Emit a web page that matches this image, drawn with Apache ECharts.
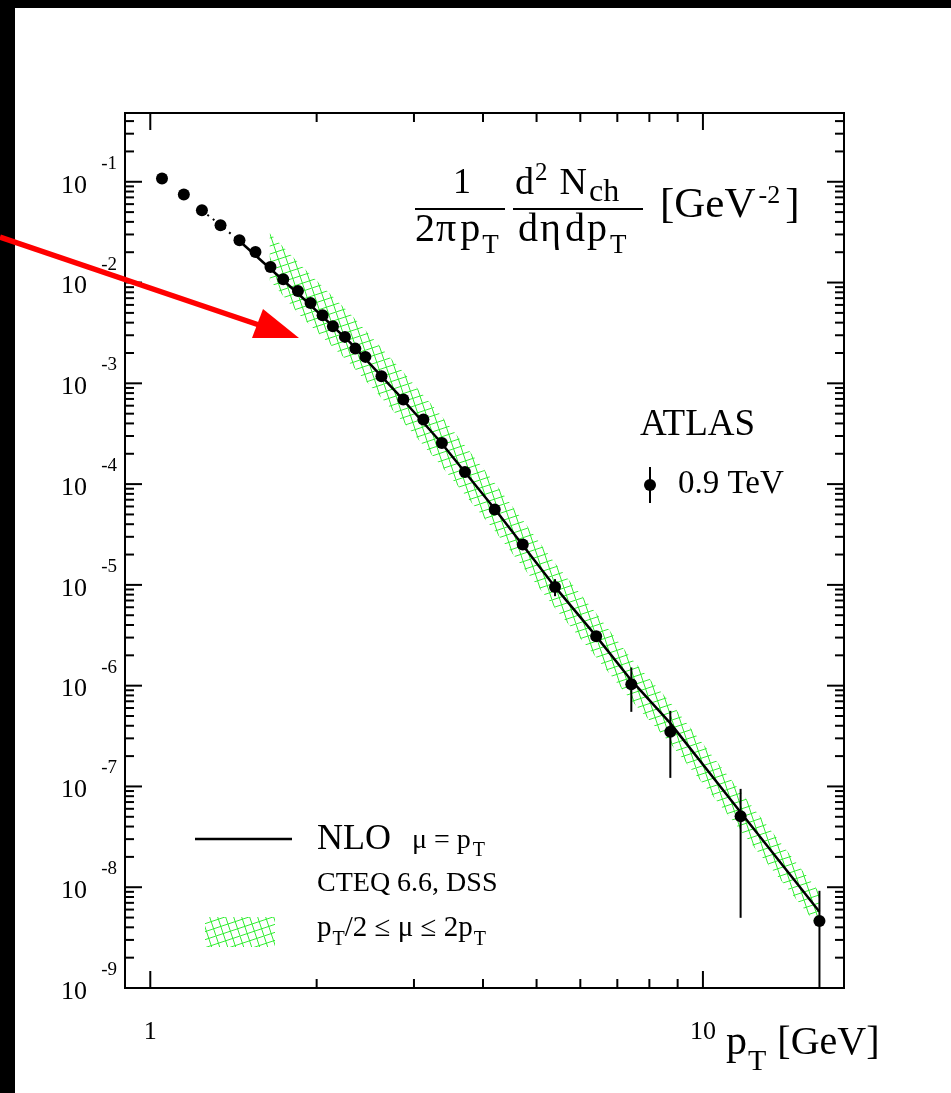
<!DOCTYPE html>
<html>
<head>
<meta charset="utf-8">
<script src="https://cdn.jsdelivr.net/npm/echarts@6/dist/echarts.min.js"></script>
<style>
  html, body { margin: 0; padding: 0; background: #fff; }
  #chart { width: 951px; height: 1093px; }
</style>
</head>
<body>
<div id="chart"></div>
<script>
// ATLAS 0.9 TeV charged particle pT spectrum, compared to NLO
var ptData = [1.05, 1.15, 1.24, 1.34, 1.45, 1.55, 1.65, 1.74, 1.85, 1.95, 2.05, 2.14, 2.25, 2.35,
  2.45, 2.62, 2.87, 3.12, 3.37, 3.71, 4.2, 4.72, 5.4, 6.41, 7.42, 8.73, 11.7, 16.25];
var yieldData = [0.1076, 0.0746, 0.0521, 0.037, 0.0263, 0.0201, 0.01429, 0.01079, 0.00826, 0.00627,
  0.00474, 0.00368, 0.00289, 0.00221, 0.00183, 0.001176, 0.000691, 0.000437, 0.000256, 0.000132,
  5.6e-5, 2.52e-5, 9.55e-6, 3.1e-6, 1.035e-6, 3.48e-7, 5.07e-8, 4.61e-9];
// error bars (null = hidden behind the marker)
var errLow = [null, null, null, null, null, null, null, null, null, null, null, null, null, null,
  null, null, null, null, null, null, null, null, 7.73e-6, null, 5.5e-7, 1.216e-7, 4.97e-9, 5e-10];
var errHigh = [null, null, null, null, null, null, null, null, null, null, null, null, null, null,
  null, null, null, null, null, null, null, null, 1.14e-5, null, 1.516e-6, 5.62e-7, 9.46e-8, 9.21e-9];

// NLO mu = pT
var nloPt = [1.445, 1.645, 1.865, 2.296, 2.829, 3.343, 4.205, 5.401, 6.408, 7.415, 8.727, 11.68, 16.25];
var nloVal = [0.0263, 0.01387, 0.00748, 0.00256, 0.000745, 0.000266, 5.64e-5, 9.55e-6, 3.1e-6,
  1.134e-6, 4.25e-7, 5.6e-8, 5.7e-9];
var nloDotPt = [1.24, 1.34, 1.445];
var nloDotVal = [0.0521, 0.037, 0.0263];

// scale band pT/2 < mu < 2pT
var bandPt = [1.645, 1.865, 2.296, 2.829, 3.343, 4.205, 5.401, 6.408, 7.415, 8.727, 11.68, 16.25];
var bandUp = [0.031, 0.01519, 0.00496, 0.001412, 0.000494, 0.0001021, 1.642e-5, 5.24e-6, 1.874e-6,
  6.86e-7, 8.98e-8, 8.94e-9];
var bandLow = [0.01054, 0.004739, 0.001582, 0.000451, 0.0001576, 3.41e-5, 5.87e-6, 1.917e-6, 7.18e-7,
  2.69e-7, 3.69e-8, 3.93e-9];

// axes
var xMin = 0.9, xMax = 18, yMin = 1e-9, yMax = 0.4813;
var xLabelVals = [1, 10];
var xLabelText = ['1', '10'];
var yLabelExps = [-9, -8, -7, -6, -5, -4, -3, -2, -1];
var xMinorTicks = [2, 3, 4, 5, 6, 7, 8, 9];
var yMinorMult = [2, 3, 4, 5, 6, 7, 8, 9];
var yDecades = [-9, -8, -7, -6, -5, -4, -3, -2, -1, 0];

var serif = "'Liberation Serif', 'DejaVu Serif', serif";

// ticks on all four sides: [x, y, kind]  kind 0/1 = x major/minor, 2/3 = y major/minor
var tickData = [];
xLabelVals.forEach(function (v) { tickData.push([v, yMin, 0]); });
xMinorTicks.forEach(function (v) { tickData.push([v, yMin, 1]); });
yLabelExps.forEach(function (e) { tickData.push([1, Math.pow(10, e), 2]); });
yDecades.forEach(function (e) {
  yMinorMult.forEach(function (m) {
    var v = m * Math.pow(10, e);
    if (v < yMax) tickData.push([1, v, 3]);
  });
});

var errData = [];
for (var i = 0; i < ptData.length; i++) {
  if (errLow[i] != null) errData.push([ptData[i], errLow[i], errHigh[i]]);
}

// green cross hatch, grid turned by ~18 deg
function makeHatch() {
  var c = document.createElement('canvas');
  c.width = 24; c.height = 24;
  var g = c.getContext('2d');
  g.strokeStyle = '#33ee33';
  g.lineWidth = 1;
  g.beginPath();
  g.moveTo(0, 8); g.lineTo(24, 0);
  g.moveTo(0, 16); g.lineTo(24, 8);
  g.moveTo(0, 24); g.lineTo(24, 16);
  g.moveTo(0, 0); g.lineTo(8, 24);
  g.moveTo(8, 0); g.lineTo(16, 24);
  g.moveTo(16, 0); g.lineTo(24, 24);
  g.stroke();
  return c;
}
var hatch = makeHatch();

function txt(x, y, s, size, align) {
  return {
    type: 'text', x: x, y: y, z: 50,
    style: { text: s, fontSize: size, fontFamily: serif, fill: '#000',
      align: align || 'left', verticalAlign: 'middle' }
  };
}
function seg(x1, y1, x2, y2, w, color) {
  return { type: 'line', z: 50, shape: { x1: x1, y1: y1, x2: x2, y2: y2 },
    style: { stroke: color || '#000', lineWidth: w } };
}
// pieces of text one after another: [text, size, dy, extra gap]
var mctx = document.createElement('canvas').getContext('2d');
function run(x, y, pieces) {
  var out = [];
  pieces.forEach(function (p) {
    out.push(txt(x, y + (p[2] || 0), p[0], p[1]));
    mctx.font = p[1] + 'px ' + serif;
    x += mctx.measureText(p[0]).width + (p[3] || 0);
  });
  return out;
}

var graphics = [
  // frame of the picture
  { type: 'rect', z: 0, shape: { x: 0, y: 0, width: 15, height: 1093 }, style: { fill: '#000' } },
  { type: 'rect', z: 0, shape: { x: 0, y: 0, width: 951, height: 8 }, style: { fill: '#000' } },
  // y title
  txt(462, 184, '1', 36, 'center'),
  seg(415, 209, 505, 209, 2),
  seg(513, 209, 643, 209, 2),
  // ATLAS legend
  txt(640, 425, 'ATLAS', 37),
  seg(650, 467, 650, 503, 2),
  { type: 'circle', z: 50, shape: { cx: 650, cy: 485, r: 6 }, style: { fill: '#000' } },
  txt(678, 484, '0.9 TeV', 33),
  // NLO legend
  seg(195, 839, 292, 839, 2.5),
  txt(317, 840, 'NLO', 36),
  txt(317, 884, 'CTEQ 6.6, DSS', 28),
  { type: 'rect', z: 50, shape: { x: 205, y: 917, width: 70, height: 30 },
    style: { fill: { image: hatch, repeat: 'repeat' } } },
  // red arrow
  seg(0, 237, 262, 326, 5.5, '#ff0000'),
  { type: 'polygon', z: 60, shape: { points: [[263, 309], [252, 338], [299, 338]] },
    style: { fill: '#ff0000' } }
].concat(
  run(415, 230, [['2', 40, 0, 1], ['π', 40, 0, 4], ['p', 40, 0, 2], ['T', 27, 16]]),
  run(515, 184, [['d', 38, 0, 1], ['2', 25, -11, 12], ['N', 38, 0, 2], ['ch', 32, 9]]),
  run(518, 230, [['d', 40, 0, 2], ['η', 40, 0, 4], ['d', 40, 0, 2], ['p', 40, 0, 3], ['T', 27, 16]]),
  run(660, 206, [['[GeV', 43, 0, 3], ['-2', 26, -10, 5], [']', 43]]),
  run(412, 841, [['μ = p', 28, 0, 2], ['T', 20, 10]]),
  run(317, 928, [['p', 29, 0, 1], ['T', 20, 12], ['/2 ≤ μ ≤ 2p', 29, 0, 1], ['T', 20, 12]]),
  run(726, 1043, [['p', 42, 0, 1], ['T', 30, 19, 11], ['[GeV]', 40]])
);

var chart = echarts.init(document.getElementById('chart'), null, { renderer: 'canvas' });
chart.setOption({
  backgroundColor: '#fff',
  animation: false,
  grid: { left: 125, top: 113, right: 107, bottom: 105, show: true, borderColor: '#000', borderWidth: 2,
    backgroundColor: 'transparent', containLabel: false, outerBoundsMode: 'none' },
  xAxis: {
    type: 'log', logBase: 10, min: xMin, max: xMax,
    axisLine: { show: false }, axisTick: { show: false }, splitLine: { show: false },
    axisLabel: {
      margin: 31, fontFamily: serif, fontSize: 26, color: '#000',
      showMinLabel: false, showMaxLabel: false,
      formatter: function (v) {
        for (var k = 0; k < xLabelVals.length; k++) {
          if (Math.abs(v - xLabelVals[k]) / xLabelVals[k] < 1e-6) return xLabelText[k];
        }
        return '';
      }
    }
  },
  yAxis: {
    type: 'log', logBase: 10, min: yMin, max: yMax,
    axisLine: { show: false }, axisTick: { show: false }, splitLine: { show: false },
    axisLabel: {
      margin: 8, showMaxLabel: false, padding: [0, 0, 14, 0],
      formatter: function (v) {
        var e = Math.round(Math.log10(v));
        if (yLabelExps.indexOf(e) < 0 || Math.abs(Math.log10(v) - e) > 1e-6) return '';
        return '{e|' + e + '}\n{b|10}{s| }';
      },
      rich: {
        e: { fontFamily: serif, fontSize: 19, lineHeight: 22, color: '#000' },
        b: { fontFamily: serif, fontSize: 26, lineHeight: 22, color: '#000' },
        s: { fontFamily: serif, fontSize: 26, lineHeight: 22, width: 30 }
      }
    }
  },
  graphic: graphics,
  series: [
    {
      type: 'custom', name: 'band', data: [[bandPt[0], bandUp[0]]], clip: true, silent: true, z: 1,
      renderItem: function (params, api) {
        var pts = [];
        for (var k = 0; k < bandPt.length; k++) pts.push(api.coord([bandPt[k], bandUp[k]]));
        for (var k2 = bandPt.length - 1; k2 >= 0; k2--) pts.push(api.coord([bandPt[k2], bandLow[k2]]));
        return { type: 'polygon', shape: { points: pts },
          style: { fill: { image: hatch, repeat: 'repeat' }, stroke: null } };
      }
    },
    {
      type: 'line', name: 'NLO', data: nloPt.map(function (p, k) { return [p, nloVal[k]]; }),
      symbol: 'none', z: 3, silent: true,
      lineStyle: { color: '#000', width: 2.5 }
    },
    {
      type: 'line', name: 'NLO dotted', data: nloDotPt.map(function (p, k) { return [p, nloDotVal[k]]; }),
      symbol: 'none', z: 3, silent: true,
      lineStyle: { color: '#000', width: 2, type: [2, 5] }
    },
    {
      type: 'custom', name: 'errors', data: errData, clip: true, z: 4, silent: true,
      encode: { x: 0, y: [1, 2] },
      renderItem: function (params, api) {
        var p1 = api.coord([api.value(0), api.value(1)]);
        var p2 = api.coord([api.value(0), api.value(2)]);
        return { type: 'line', shape: { x1: p1[0], y1: p1[1], x2: p2[0], y2: p2[1] },
          style: { stroke: '#000', lineWidth: 2 } };
      }
    },
    {
      type: 'scatter', name: 'ATLAS 0.9 TeV', data: ptData.map(function (p, k) { return [p, yieldData[k]]; }),
      symbol: 'circle', symbolSize: 12, z: 5, silent: true,
      itemStyle: { color: '#000', opacity: 1 }
    },
    {
      type: 'custom', name: 'ticks', data: tickData, clip: false, z: 6, silent: true,
      encode: { x: 0, y: 1 },
      renderItem: function (params, api) {
        var cs = params.coordSys;
        var kind = api.value(2);
        var major = (kind === 0 || kind === 2);
        var len = major ? 17 : 9;
        var st = { stroke: '#000', lineWidth: 2 };
        if (kind < 2) {
          var x = api.coord([api.value(0), yMin])[0];
          return { type: 'group', children: [
            { type: 'line', shape: { x1: x, y1: cs.y + cs.height, x2: x, y2: cs.y + cs.height - len }, style: st },
            { type: 'line', shape: { x1: x, y1: cs.y, x2: x, y2: cs.y + len }, style: st }
          ] };
        }
        var y = api.coord([xMin, api.value(1)])[1];
        return { type: 'group', children: [
          { type: 'line', shape: { x1: cs.x, y1: y, x2: cs.x + len, y2: y }, style: st },
          { type: 'line', shape: { x1: cs.x + cs.width, y1: y, x2: cs.x + cs.width - len, y2: y }, style: st }
        ] };
      }
    }
  ]
});
</script>
</body>
</html>
